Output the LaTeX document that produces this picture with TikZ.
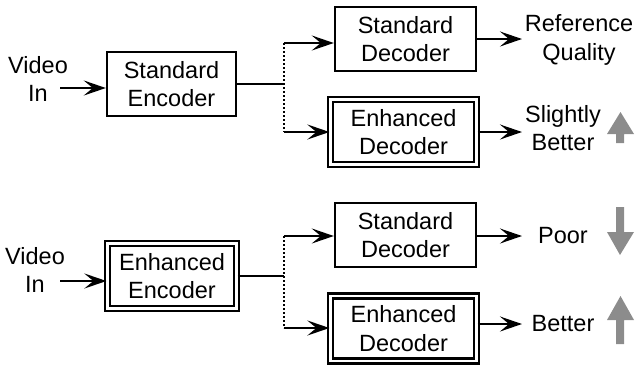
\documentclass[tikz,border=0pt]{standalone}
\usepackage{fontspec}
\setmainfont{Liberation Sans}
\usetikzlibrary{arrows.meta}
\begin{document}
\begin{tikzpicture}[x=1pt,y=-1pt,
  every node/.style={font=\fontsize{23.5}{28.5}\selectfont, align=center, inner sep=0pt},
  sbox/.style={draw, line width=2.4pt, minimum width=#1, minimum height=64pt},
  dbox/.style={draw, line width=2.2pt, double, double distance=2.8pt, minimum width=#1, minimum height=65pt},
  arr/.style={line width=2.4pt, -{Stealth[length=22pt,width=15pt,inset=9pt]}},
  wire/.style={line width=2.4pt},
  dots/.style={line width=2pt, dash pattern=on 2pt off 2pt},
  grayarrow/.style={fill=black!45}
]
\useasboundingbox (0,0) rectangle (635,368);

% ---------- top ----------
\node (vin1) at (38,79) {Video\\In};
\coordinate (a1) at (60,88);
\node[sbox=129pt] (enc1) at (171.5,84) {Standard\\Encoder};
\coordinate (s1) at (284,84);
\coordinate (s1t) at (284,43);
\coordinate (s1b) at (284,132);
\node[sbox=141pt] (sd1) at (405.5,39) {Standard\\Decoder};
\node[dbox=146pt] (ed1) at (403.5,132) {Enhanced\\Decoder};
\node (ref) at (579,40) {Reference\\Quality};
\node (sb) at (563,128) {Slightly\\Better};
\coordinate (o1) at (522,39);
\coordinate (o2) at (522,132);

\draw[arr] (a1) -- (a1 -| enc1.west);
\draw[wire] (enc1.east |- s1) -- (s1);
\draw[dots] (s1t) -- (s1b);
\draw[arr] (s1t) -- (s1t -| sd1.west);
\draw[arr] (s1b) -- (s1b -| ed1.west);
\draw[arr] (sd1.east) -- (o1);
\draw[arr] (ed1.east) -- (o2);

\fill[grayarrow] (607,134) -- (620.5,112) -- (634,134) -- (624,134) -- (624,143) -- (616,143) -- (616,134) -- cycle;

% ---------- bottom ----------
\node (vin2) at (35,270) {Video\\In};
\coordinate (a2) at (60,281);
\node[dbox=129pt] (enc2) at (172,276) {Enhanced\\Encoder};
\coordinate (s2) at (284,276);
\coordinate (s2t) at (284,236);
\coordinate (s2b) at (284,328);
\node[sbox=141pt] (sd2) at (405.5,235) {Standard\\Decoder};
\node[dbox=146pt] (ed2) at (403.5,328.5) {Enhanced\\Decoder};
\node (poor) at (563,236) {Poor};
\node (bet) at (563,324) {Better};
\coordinate (o3) at (522,236);
\coordinate (o4) at (522,324);

\draw[arr] (a2) -- (a2 -| enc2.west);
\draw[wire] (enc2.east |- s2) -- (s2);
\draw[dots] (s2t) -- (s2b);
\draw[arr] (s2t) -- (s2t -| sd2.west);
\draw[arr] (s2b) -- (s2b -| ed2.west);
\draw[arr] (sd2.east |- o3) -- (o3);
\draw[arr] (ed2.east |- o4) -- (o4);

\fill[grayarrow] (616,207) -- (624,207) -- (624,232) -- (634,232) -- (620,255) -- (607,232) -- (616,232) -- cycle;
\fill[grayarrow] (607,320) -- (620.5,296) -- (634,320) -- (624,320) -- (624,344) -- (616,344) -- (616,320) -- cycle;
\end{tikzpicture}
\end{document}
